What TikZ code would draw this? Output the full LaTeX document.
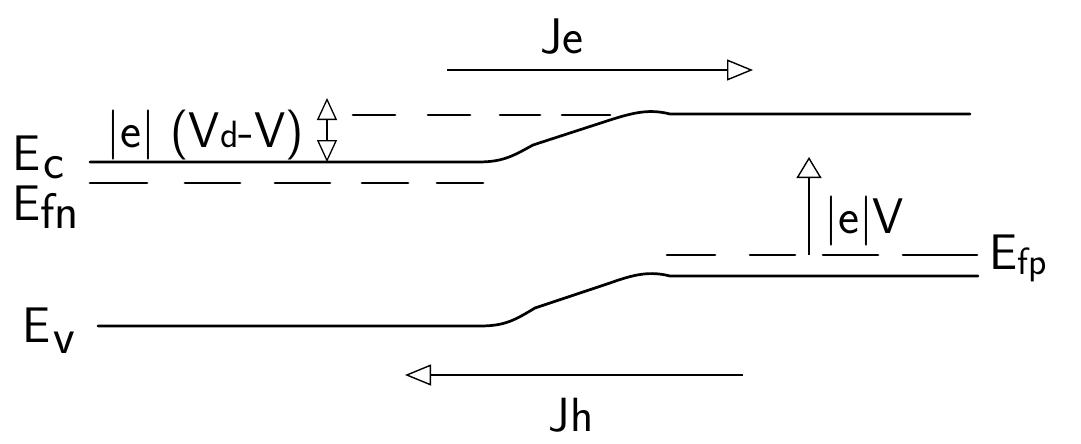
\documentclass[tikz,border=0pt]{standalone}
\usetikzlibrary{arrows.meta}
\tikzset{
  band/.style={draw=black, line width=2.7pt, line cap=round},
  lbl/.style={inner sep=0pt, font=\sffamily\fontsize{50}{50}\selectfont},
  flow/.style={line width=2.4pt, -{Triangle[open, length=26pt, width=21pt, line width=1.4pt]}},
  gap/.style={line width=1.5pt, {Triangle[open, length=22pt, width=20pt, line width=1.3pt]}-{Triangle[open, length=22pt, width=20pt, line width=1.3pt]}},
  rise/.style={line width=2pt, -{Triangle[open, length=21pt, width=25pt, line width=1.4pt]}},
}
\newcommand{\smallsub}[1]{{\fontsize{38}{38}\selectfont #1}}
\begin{document}
\begin{tikzpicture}[x=1pt,y=-1pt]
\path[use as bounding box] (0,0) rectangle (1081,444);

% labels
\node[lbl, anchor=base west] (Ec) at (12,170) {E\hspace{3pt}\raisebox{-8pt}{c}};
\node[lbl, anchor=base west] (Efn) at (12,220) {E\raisebox{-8pt}{fn}};
\node[lbl, anchor=base west] (Ev) at (22,342) {E\hspace{3pt}\raisebox{-11pt}{v}};
\node[lbl, anchor=base west] (Efp) at (989,269) {E\raisebox{-5pt}{\smallsub{fp}}};
\node[lbl, anchor=base west] (Vlab) at (106,147) {|e| (V\smallsub{d}-V)};
\node[lbl, anchor=base west] (eVlab) at (824,233) {|e|V};
\node[lbl, anchor=base] (Jelab) at (562,53) {Je};
\node[lbl, anchor=base, font=\sffamily\fontsize{48}{48}\selectfont] (Jhlab) at (571,431) {Jh};

% conduction band edge
\coordinate (c1) at (90,162);
\coordinate (c2) at (970,114);
\draw[band] (c1) -- (478,162) .. controls (503,162) and (513,156) .. (533,145)
  -- (610,120) .. controls (635,112) and (650,109) .. (670,114) -- (c2);

% valence band edge
\coordinate (v1) at (98,326);
\coordinate (v2) at (978,276);
\draw[band] (v1) -- (480,326) .. controls (505,326) and (515,320) .. (535,308)
  -- (610,283) .. controls (635,274) and (650,271) .. (670,276) -- (v2);

% quasi-Fermi level (electrons) upper dashes
\draw[band] (353,115) -- (395,115);
\draw[band] (428,115) -- (470,115);
\draw[band] (500,115) -- (540,115);
\draw[band] (562,115) -- (610,115);

% quasi-Fermi level (electrons) lower dashes
\draw[band] (90,183) -- (147,183);
\draw[band] (185,183) -- (240,183);
\draw[band] (275,183) -- (330,183);
\draw[band] (362,183) -- (408,183);
\draw[band] (437,183) -- (483,183);

% quasi-Fermi level (holes)
\draw[band] (667,255) -- (715,255);
\draw[band] (750,255) -- (795,255);
\draw[band] (823,255) -- (878,255);
\draw[band] (903,255) -- (977,255);

% arrows
\coordinate (gtop) at (327,98);
\coordinate (gbot) at (327,162);
\draw[gap] (gtop) -- (gbot);

\coordinate (rbot) at (809,255);
\coordinate (rtop) at (809,157);
\draw[rise] (rbot) -- (rtop);

\coordinate (je1) at (447,70);
\coordinate (je2) at (753,70);
\draw[flow] (je1) -- (je2);

\coordinate (jh1) at (743,375);
\coordinate (jh2) at (405,375);
\draw[flow] (jh1) -- (jh2);
\end{tikzpicture}
\end{document}
